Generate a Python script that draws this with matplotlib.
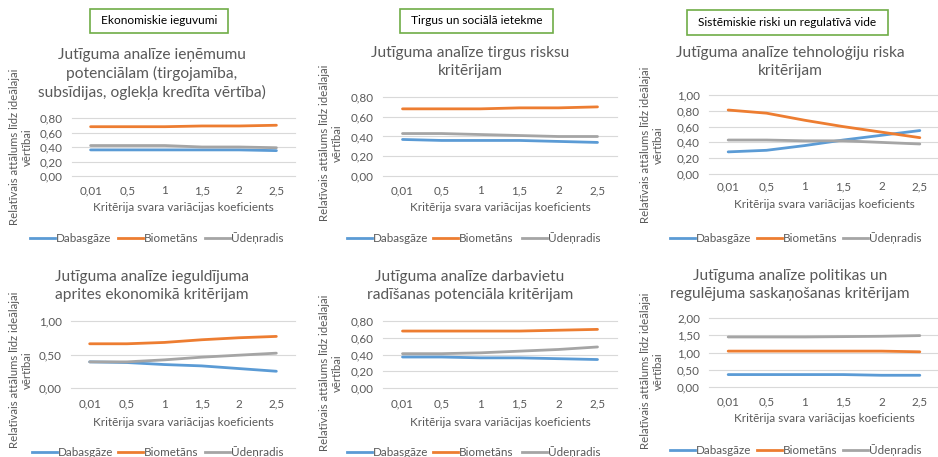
import matplotlib
matplotlib.use("Agg")
import matplotlib.pyplot as plt
from matplotlib.lines import Line2D
from matplotlib.patches import Rectangle
from matplotlib.ticker import FuncFormatter, MultipleLocator

plt.rcParams["font.family"] = ["Lato", "DejaVu Sans"]

W, H = 938, 457

# --- dati ---
x_labels = ["0,01", "0,5", "1", "1,5", "2", "2,5"]
series_names = ["Dabasgāze", "Biometāns", "Ūdeņradis"]

ienemumi_gaze = [0.36, 0.36, 0.36, 0.36, 0.36, 0.35]
ienemumi_bio = [0.68, 0.68, 0.68, 0.69, 0.69, 0.70]
ienemumi_h2 = [0.42, 0.42, 0.42, 0.40, 0.40, 0.39]

tirgus_gaze = [0.37, 0.36, 0.36, 0.36, 0.35, 0.34]
tirgus_bio = [0.68, 0.68, 0.68, 0.69, 0.69, 0.70]
tirgus_h2 = [0.43, 0.43, 0.42, 0.41, 0.40, 0.40]

tehn_gaze = [0.28, 0.30, 0.36, 0.43, 0.49, 0.55]
tehn_bio = [0.81, 0.77, 0.68, 0.60, 0.53, 0.46]
tehn_h2 = [0.43, 0.43, 0.42, 0.42, 0.40, 0.38]

aprite_gaze = [0.39, 0.38, 0.35, 0.33, 0.29, 0.25]
aprite_bio = [0.66, 0.66, 0.68, 0.72, 0.75, 0.77]
aprite_h2 = [0.39, 0.39, 0.42, 0.46, 0.49, 0.52]

darbav_gaze = [0.37, 0.37, 0.36, 0.36, 0.35, 0.34]
darbav_bio = [0.68, 0.68, 0.68, 0.68, 0.69, 0.70]
darbav_h2 = [0.41, 0.41, 0.42, 0.44, 0.46, 0.49]

polit_gaze = [0.36, 0.36, 0.36, 0.36, 0.34, 0.34]
polit_bio = [1.04, 1.04, 1.04, 1.04, 1.04, 1.02]
polit_h2 = [1.45, 1.45, 1.45, 1.46, 1.47, 1.49]

titles = [
    "Jutīguma analīze ieņēmumu\npotenciālam (tirgojamība,\nsubsīdijas, oglekļa kredīta vērtība)",
    "Jutīguma analīze tirgus risksu\nkritērijam",
    "Jutīguma analīze tehnoloģiju riska\nkritērijam",
    "Jutīguma analīze ieguldījuma\naprites ekonomikā kritērijam",
    "Jutīguma analīze darbavietu\nradīšanas potenciāla kritērijam",
    "Jutīguma analīze politikas un\nregulējuma saskaņošanas kritērijam",
]
group_labels = ["Ekonomiskie ieguvumi", "Tirgus un sociālā ietekme",
                "Sistēmiskie riski un regulatīvā vide"]

y_label = "Relatīvais attālums līdz ideālajai\nvērtībai"
x_label = "Kritērija svara variācijas koeficients"

colors = ["#5B9BD5", "#ED7D31", "#A5A5A5"]
TXT = "#595959"
FS = 8.4

# panelu izkartojums pikseļos: x0, x1, y_nulle, y_augsa, ymax, solis,
# virsraksta centrs, tick y, x-nos. y, leģendas y, leģendas x, y-nos. x, y
panels = [
    dict(data=[ienemumi_gaze, ienemumi_bio, ienemumi_h2], x0=72, x1=295,
         y0=176, yt=118, ymax=0.8, step=0.2, tx=152, ty=74, tky=191,
         xly=207, ly=238, lx=[30, 118, 205], ylx=21, yly=147),
    dict(data=[tirgus_gaze, tirgus_bio, tirgus_h2], x0=383, x1=617,
         y0=176, yt=97, ymax=0.8, step=0.2, tx=470, ty=62, tky=191,
         xly=207, ly=238, lx=[347, 433, 522], ylx=331, yly=143),
    dict(data=[tehn_gaze, tehn_bio, tehn_h2], x0=709, x1=939,
         y0=174, yt=95, ymax=1.0, step=0.2, tx=790, ty=62, tky=187,
         xly=205, ly=238, lx=[670, 757, 843], ylx=652, yly=145),
    dict(data=[aprite_gaze, aprite_bio, aprite_h2], x0=71, x1=295,
         y0=388, yt=321, ymax=1.0, step=0.5, tx=152, ty=286, tky=404,
         xly=422, ly=452, lx=[32, 118, 205], ylx=21, yly=370),
    dict(data=[darbav_gaze, darbav_bio, darbav_h2], x0=383, x1=617,
         y0=388, yt=321, ymax=0.8, step=0.2, tx=470, ty=286, tky=404,
         xly=422, ly=452, lx=[347, 433, 522], ylx=331, yly=373),
    dict(data=[polit_gaze, polit_bio, polit_h2], x0=709, x1=939,
         y0=387, yt=318, ymax=2.0, step=0.5, tx=790, ty=285, tky=402,
         xly=418, ly=450, lx=[670, 757, 843], ylx=652, yly=371),
]

group_boxes = [(90, 228, 9, 33), (400, 553, 9, 33), (687, 888, 10, 35)]


def fx(px):
    return px / W


def fy(py):
    return 1 - py / H


fig = plt.figure(figsize=(W / 100, H / 100), dpi=100)
fig.patch.set_facecolor("white")

comma = FuncFormatter(lambda v, _: f"{v:.2f}".replace(".", ","))

for p, title in zip(panels, titles):
    ax = fig.add_axes([fx(p["x0"]), fy(p["y0"]), (p["x1"] - p["x0"]) / W,
                       (p["y0"] - p["yt"]) / H])
    xs = range(len(x_labels))
    for vals, c, name in zip(p["data"], colors, series_names):
        ax.plot(xs, vals, color=c, lw=2.0, solid_capstyle="round",
                label=name, zorder=3)
    ax.set_xlim(-0.5, len(x_labels) - 0.5)
    ax.set_ylim(0, p["ymax"])
    ax.yaxis.set_major_locator(MultipleLocator(p["step"]))
    ax.yaxis.set_major_formatter(comma)
    ax.set_xticks(list(xs))
    ax.set_xticklabels(x_labels)
    ax.grid(axis="y", color="#D9D9D9", lw=0.8, zorder=0)
    ax.set_axisbelow(True)
    for gl in ax.get_ygridlines():
        gl.set_clip_on(False)
    for s in ax.spines.values():
        s.set_visible(False)
    ax.tick_params(length=0, labelsize=FS, colors=TXT)
    ax.tick_params(axis="x", pad=(p["tky"] - p["y0"] - 5.5) * 0.72)
    ax.tick_params(axis="y", pad=6.5)
    ax.set_facecolor("none")

    cx = (p["x0"] + p["x1"]) / 2
    fig.text(fx(p["tx"]), fy(p["ty"]), title, ha="center", va="center",
             fontsize=11.2, color=TXT, linespacing=1.3)
    fig.text(fx(cx), fy(p["xly"]), x_label, ha="center", va="center",
             fontsize=FS, color=TXT)
    fig.text(fx(p["ylx"]), fy(p["yly"]), y_label, ha="center", va="center",
             rotation=90, fontsize=8.2, color=TXT, linespacing=1.25)

    # leģenda
    for lx, c, name in zip(p["lx"], colors, series_names):
        fig.add_artist(Line2D([fx(lx), fx(lx + 25)], [fy(p["ly"])] * 2,
                              color=c, lw=2.0, transform=fig.transFigure))
        fig.text(fx(lx + 26), fy(p["ly"]), name, ha="left", va="center",
                 fontsize=FS, color=TXT)

for (bx0, bx1, by0, by1), label in zip(group_boxes, group_labels):
    fig.add_artist(Rectangle((fx(bx0), fy(by1)), (bx1 - bx0) / W,
                             (by1 - by0) / H, transform=fig.transFigure,
                             facecolor="white", edgecolor="#70AD47", lw=1.2))
    fig.text(fx((bx0 + bx1) / 2), fy((by0 + by1) / 2), label, ha="center",
             va="center", fontsize=8.6, color="black")

fig.savefig("out.png", dpi=100, facecolor="white")
